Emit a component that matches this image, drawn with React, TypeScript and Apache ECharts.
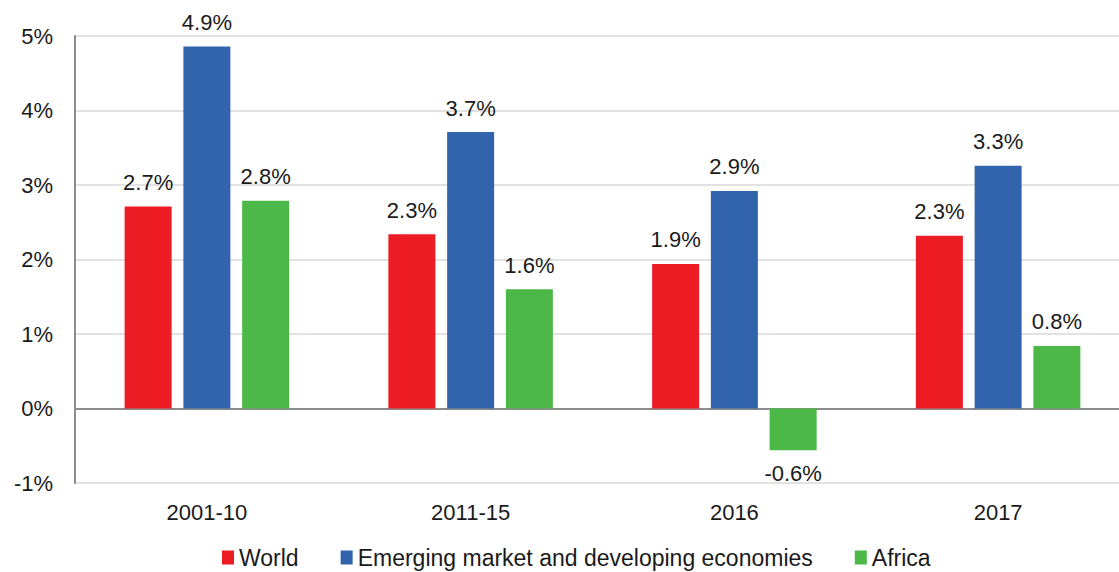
import React, { useEffect, useRef } from "react";
import * as echarts from "echarts";

const categories = ["2001-10", "2011-15", "2016", "2017"];
const worldValues = [2.71, 2.34, 1.94, 2.32];
const emergingValues = [4.86, 3.71, 2.92, 3.26];
const africaValues = [2.79, 1.6, -0.56, 0.84];
const seriesNames = ["World", "Emerging market and developing economies", "Africa"];
const yTicks = { min: -1, max: 5, interval: 1 };

const FONT = "Liberation Sans, Arial, Helvetica, sans-serif";
const COLORS = ["#ed1c24", "#3264ae", "#4bb848"];

export default function App() {
  const ref = useRef<HTMLDivElement>(null);
  useEffect(() => {
    if (!ref.current) return;
    const chart = echarts.init(ref.current, undefined, { renderer: "svg" });
    const mkLabel = {
      show: true,
      position: "top",
      distance: 13,
      fontSize: 22,
      fontFamily: FONT,
      color: "#1a1a1a",
      formatter: (p: any) => Number(p.value).toFixed(1) + "%",
    };
    const mkData = (vals: number[]) =>
      vals.map((v) =>
        v < 0 ? { value: v, label: { position: "bottom", distance: 12 } } : { value: v }
      );
    const allValues = [worldValues, emergingValues, africaValues];
    chart.setOption({
      animation: false,
      backgroundColor: "#ffffff",
      textStyle: { fontFamily: FONT },
      grid: { left: 75, right: 0, top: 36, bottom: 89, containLabel: false },
      legend: {
        data: seriesNames,
        left: 217,
        top: 541,
        itemWidth: 12,
        itemHeight: 14,
        itemGap: 42,
        icon: "rect",
        textStyle: { fontSize: 23, fontFamily: FONT, color: "#1a1a1a" },
      },
      xAxis: {
        type: "category",
        data: categories,
        axisLine: { show: false, onZero: false },
        axisTick: { show: false },
        axisLabel: { fontSize: 22, fontFamily: FONT, color: "#1a1a1a", margin: 18 },
      },
      yAxis: {
        type: "value",
        min: yTicks.min,
        max: yTicks.max,
        interval: yTicks.interval,
        axisLine: { show: true, lineStyle: { color: "#8c8c8c", width: 2 } },
        axisTick: { show: false },
        splitLine: { show: true, lineStyle: { color: "#e2e2e2", width: 2 } },
        axisLabel: {
          fontSize: 22,
          fontFamily: FONT,
          color: "#1a1a1a",
          margin: 22,
          formatter: "{value}%",
        },
      },
      series: seriesNames.map((name, i) => ({
        name,
        type: "bar",
        barWidth: 47,
        barGap: "25%",
        itemStyle: { color: COLORS[i] },
        label: mkLabel,
        data: mkData(allValues[i]),
        ...(i === 0
          ? {
              markLine: {
                silent: true,
                symbol: "none",
                label: { show: false },
                lineStyle: { color: "#8c8c8c", width: 2, type: "solid" },
                data: [{ yAxis: 0 }],
                z: 1,
              },
            }
          : {}),
      })),
    });
    return () => chart.dispose();
  }, []);
  return (
    <div
      style={{
        position: "absolute",
        left: 0,
        top: 0,
        width: 1119,
        height: 572,
        overflow: "hidden",
      }}
    >
      <div ref={ref} style={{ width: 1130, height: 572 }} />
    </div>
  );
}
